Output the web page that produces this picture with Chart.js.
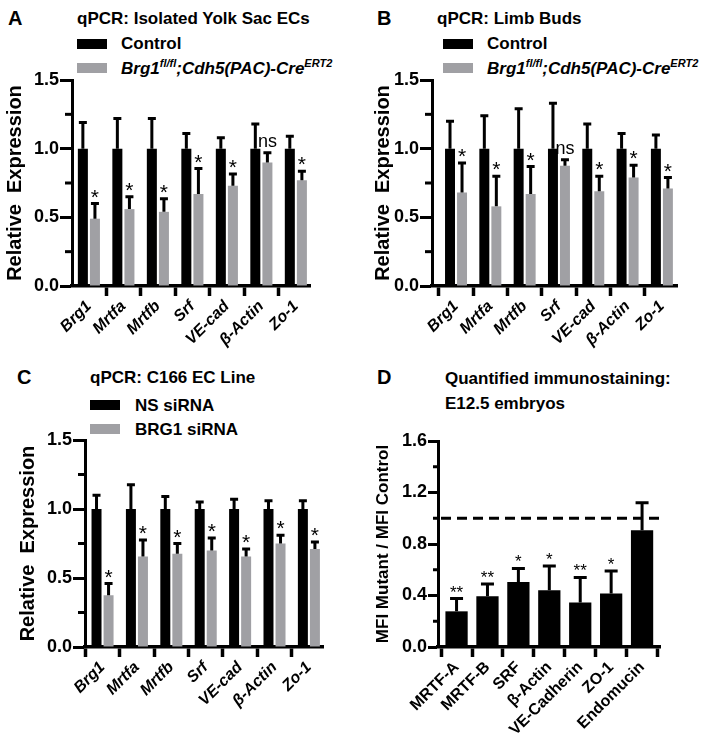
<!DOCTYPE html>
<html>
<head>
<meta charset="utf-8">
<script src="https://cdn.jsdelivr.net/npm/chart.js@4.4.0/dist/chart.umd.min.js"></script>
<style>
  body { margin: 0; background: #fff; }
  #fig { position: relative; width: 711px; height: 735px; overflow: hidden;
         font-family: "Liberation Sans", Arial, sans-serif; color: #000; }
  .t { position: absolute; font-weight: bold; white-space: nowrap; line-height: 1; font-size: 17px; }
  .let { font-size: 20px; }
  .it { font-style: italic; }
  .sup { font-size: 11px; position: relative; top: -7px; }
  .sw { position: absolute; width: 30px; height: 10px; }
  canvas { position: absolute; }
</style>
</head>
<body>
<div id="fig">
  <div class="t let" style="left:8px;top:8px">A</div>
  <div class="t" style="left:77px;top:10px">qPCR: Isolated Yolk Sac ECs</div>
  <div class="sw" style="left:77px;top:39px;background:#000"></div>
  <div class="t" style="left:121px;top:35px">Control</div>
  <div class="sw" style="left:77px;top:63px;background:#a0a0a4"></div>
  <div class="t it" style="left:121px;top:60px">Brg1<span class="sup">fl/fl</span>;Cdh5(PAC)-Cre<span class="sup">ERT2</span></div>

  <div class="t let" style="left:377px;top:8px">B</div>
  <div class="t" style="left:437px;top:10px">qPCR: Limb Buds</div>
  <div class="sw" style="left:443px;top:39px;background:#000"></div>
  <div class="t" style="left:487px;top:35px">Control</div>
  <div class="sw" style="left:443px;top:63px;background:#a0a0a4"></div>
  <div class="t it" style="left:487px;top:60px">Brg1<span class="sup">fl/fl</span>;Cdh5(PAC)-Cre<span class="sup">ERT2</span></div>

  <div class="t let" style="left:17px;top:367px">C</div>
  <div class="t" style="left:90px;top:369px">qPCR: C166 EC Line</div>
  <div class="sw" style="left:90px;top:400px;background:#000"></div>
  <div class="t" style="left:135px;top:397px">NS siRNA</div>
  <div class="sw" style="left:90px;top:424px;background:#a0a0a4"></div>
  <div class="t" style="left:135px;top:421px">BRG1 siRNA</div>

  <div class="t let" style="left:377px;top:367px">D</div>
  <div class="t" style="left:445px;top:370px">Quantified immunostaining:</div>
  <div class="t" style="left:445px;top:395px">E12.5 embryos</div>

  <canvas id="chartA" width="330" height="310" style="left:0;top:60px"></canvas>
  <canvas id="chartB" width="356" height="310" style="left:355px;top:60px"></canvas>
  <canvas id="chartC" width="340" height="315" style="left:0;top:420px"></canvas>
  <canvas id="chartD" width="356" height="315" style="left:355px;top:420px"></canvas>
</div>
<script>
// genes shared by A, B, C
const genes = ['Brg1', 'Mrtfa', 'Mrtfb', 'Srf', 'VE-cad', 'β-Actin', 'Zo-1'];

// A: isolated yolk sac ECs
const ctrlA = [1, 1, 1, 1, 1, 1, 1];
const ctrlErrA = [0.19, 0.22, 0.22, 0.11, 0.08, 0.18, 0.09];
const mutA = [0.49, 0.56, 0.54, 0.67, 0.73, 0.90, 0.77];
const mutErrA = [0.11, 0.09, 0.095, 0.185, 0.085, 0.07, 0.065];
const sigA = ['*', '*', '*', '*', '*', 'ns', '*'];

// B: limb buds
const ctrlB = [1, 1, 1, 1, 1, 1, 1];
const ctrlErrB = [0.20, 0.24, 0.29, 0.33, 0.18, 0.11, 0.10];
const mutB = [0.68, 0.58, 0.67, 0.875, 0.69, 0.79, 0.71];
const mutErrB = [0.215, 0.22, 0.20, 0.045, 0.11, 0.09, 0.08];
const sigB = ['*', '*', '*', 'ns', '*', '*', '*'];

// C: C166 EC line
const ctrlC = [1, 1, 1, 1, 1, 1, 1];
const ctrlErrC = [0.10, 0.175, 0.09, 0.05, 0.07, 0.06, 0.06];
const mutC = [0.375, 0.655, 0.675, 0.70, 0.655, 0.75, 0.71];
const mutErrC = [0.085, 0.12, 0.075, 0.09, 0.055, 0.06, 0.05];
const sigC = ['*', '*', '*', '*', '*', '*', '*'];

// D: quantified immunostaining
const proteins = ['MRTF-A', 'MRTF-B', 'SRF', 'β-Actin', 'VE-Cadherin', 'ZO-1', 'Endomucin'];
const mfiD = [0.277, 0.394, 0.505, 0.44, 0.345, 0.415, 0.906];
const mfiErrD = [0.099, 0.096, 0.105, 0.19, 0.195, 0.175, 0.214];
const sigD = ['**', '**', '*', '*', '**', '*', ''];

const FAM = '"Liberation Sans", Arial, sans-serif';
const BLACK = '#000';
const GRAY = '#a0a0a4';

const pts = vals => vals.map((v, i) => ({ x: i, y: v }));

const errPlugin = {
  id: 'errbars',
  beforeDatasetsDraw(chart, args, o) {
    if (o.dashAt == null) return;
    const { ctx, chartArea: a, scales: { y } } = chart;
    const py = y.getPixelForValue(o.dashAt);
    ctx.save();
    ctx.strokeStyle = '#000';
    ctx.lineWidth = 3;
    ctx.setLineDash([10, 6]);
    ctx.beginPath();
    ctx.moveTo(a.left + 3, py);
    ctx.lineTo(a.right, py);
    ctx.stroke();
    ctx.restore();
  },
  afterDatasetsDraw(chart, args, o) {
    const { ctx, chartArea: a, scales: { y } } = chart;
    ctx.save();
    ctx.strokeStyle = '#000';
    ctx.fillStyle = '#000';
    ctx.lineWidth = o.lw;
    chart.data.datasets.forEach((ds, di) => {
      const meta = chart.getDatasetMeta(di);
      meta.data.forEach((bar, i) => {
        const top = y.getPixelForValue(ds.data[i].y + o.errs[di][i]);
        ctx.beginPath();
        ctx.moveTo(bar.x, bar.y);
        ctx.lineTo(bar.x, top);
        ctx.moveTo(bar.x - o.capW / 2, top);
        ctx.lineTo(bar.x + o.capW / 2, top);
        ctx.stroke();
        const m = di === o.markDs ? o.marks[i] : '';
        if (m) {
          ctx.font = m === 'ns' ? o.nsFont : o.markFont;
          ctx.textAlign = 'center';
          ctx.textBaseline = 'alphabetic';
          ctx.fillText(m, bar.x, top - (m === 'ns' ? o.nsOff : o.starOff));
        }
      });
    });
    // short minor ticks on the y axis
    ctx.lineWidth = 3;
    o.minor.forEach(v => {
      const py = y.getPixelForValue(v);
      ctx.beginPath();
      ctx.moveTo(a.left - o.minorLen, py);
      ctx.lineTo(a.left, py);
      ctx.stroke();
    });
    ctx.restore();
  }
};

function panel(id, cats, datasets, o) {
  new Chart(document.getElementById(id), {
    type: 'bar',
    data: { datasets },
    plugins: [errPlugin],
    options: {
      responsive: false,
      animation: false,
      events: [],
      layout: { padding: o.pad },
      datasets: { bar: { categoryPercentage: o.catPct, barPercentage: o.barPct } },
      plugins: {
        legend: { display: false },
        tooltip: { enabled: false },
        errbars: o.err
      },
      scales: {
        x: {
          type: 'linear',
          min: o.xmin,
          max: o.xmax,
          offset: false,
          afterBuildTicks: s => { s.ticks = cats.map((c, i) => ({ value: i })); },
          afterFit: s => { s.height = o.xh; },
          grid: { display: true, drawOnChartArea: false, tickLength: 10, tickWidth: 3.5, tickColor: '#000' },
          border: { display: true, width: 3.5, color: '#000' },
          ticks: {
            autoSkip: false, maxRotation: 45, minRotation: 45, padding: 1, color: '#000',
            font: o.xFont,
            callback: v => cats[v]
          }
        },
        y: {
          min: 0,
          max: o.ymax,
          afterFit: s => { s.width = o.yw; },
          title: {
            display: true, text: o.ytitle, color: '#000',
            font: { family: FAM, size: o.ytSize, weight: 'bold' },
            padding: { top: o.ytPad, bottom: 0 }
          },
          grid: { display: true, drawOnChartArea: false, tickLength: o.tickLen, tickWidth: 3, tickColor: '#000' },
          border: { display: true, width: 3, color: '#000' },
          ticks: {
            stepSize: o.ystep, padding: 1, color: '#000',
            font: { family: FAM, size: 18, weight: 'bold' },
            callback: v => v.toFixed(1)
          }
        }
      }
    }
  });
}

const italicX = { family: FAM, size: 16, weight: 'bold', style: 'italic' };
const qpcrErr = (c, m, s) => ({
  errs: [c, m], marks: s, markDs: 1, markFont: '21px ' + FAM, nsFont: '18px ' + FAM,
  starOff: 0, nsOff: 6, capW: 8, lw: 3,
  minor: [0.25, 0.75, 1.25], minorLen: 7, dashAt: null
});

panel('chartA', genes, [
  { label: 'Control', data: pts(ctrlA), backgroundColor: BLACK },
  { label: 'Brg1 fl/fl; Cdh5(PAC)-CreERT2', data: pts(mutA), backgroundColor: GRAY }
], {
  pad: { top: 20, right: 20, left: 0, bottom: 0 }, yw: 72, xh: 84,
  xmin: -0.49, xmax: 6.41, ymax: 1.5, ystep: 0.5, tickLen: 12,
  ytitle: 'Relative  Expression', ytSize: 20, ytPad: 3.5,
  catPct: 0.7, barPct: 0.83, xFont: italicX,
  err: qpcrErr(ctrlErrA, mutErrA, sigA)
});

panel('chartB', genes, [
  { label: 'Control', data: pts(ctrlB), backgroundColor: BLACK },
  { label: 'Brg1 fl/fl; Cdh5(PAC)-CreERT2', data: pts(mutB), backgroundColor: GRAY }
], {
  pad: { top: 20, right: 34, left: 0, bottom: 0 }, yw: 77, xh: 84,
  xmin: -0.70, xmax: 6.44, ymax: 1.5, ystep: 0.5, tickLen: 12,
  ytitle: 'Relative  Expression', ytSize: 20, ytPad: 16.5,
  catPct: 0.7, barPct: 0.83, xFont: italicX,
  err: qpcrErr(ctrlErrB, mutErrB, sigB)
});

panel('chartC', genes, [
  { label: 'NS siRNA', data: pts(ctrlC), backgroundColor: BLACK },
  { label: 'BRG1 siRNA', data: pts(mutC), backgroundColor: GRAY }
], {
  pad: { top: 20, right: 17, left: 0, bottom: 0 }, yw: 85, xh: 88,
  xmin: -0.51, xmax: 6.41, ymax: 1.5, ystep: 0.5, tickLen: 12,
  ytitle: 'Relative  Expression', ytSize: 20, ytPad: 16.5,
  catPct: 0.7, barPct: 0.83, xFont: italicX,
  err: qpcrErr(ctrlErrC, mutErrC, sigC)
});

panel('chartD', proteins, [
  { label: 'MFI Mutant / MFI Control', data: pts(mfiD), backgroundColor: BLACK }
], {
  pad: { top: 21, right: 51, left: 0, bottom: 0 }, yw: 83, xh: 88,
  xmin: -0.6, xmax: 6.58, ymax: 1.6, ystep: 0.4, tickLen: 10,
  ytitle: 'MFI Mutant / MFI Control', ytSize: 17, ytPad: 18.3,
  catPct: 0.72, barPct: 1.0, xFont: { family: FAM, size: 16, weight: 'bold' },
  err: {
    errs: [mfiErrD], marks: sigD, markDs: 0, markFont: '17px ' + FAM, nsFont: '15px ' + FAM,
    starOff: 1, nsOff: 5, capW: 13, lw: 3,
    minor: [0.2, 0.6, 1.0, 1.4], minorLen: 5, dashAt: 1.0
  }
});
</script>
</body>
</html>
